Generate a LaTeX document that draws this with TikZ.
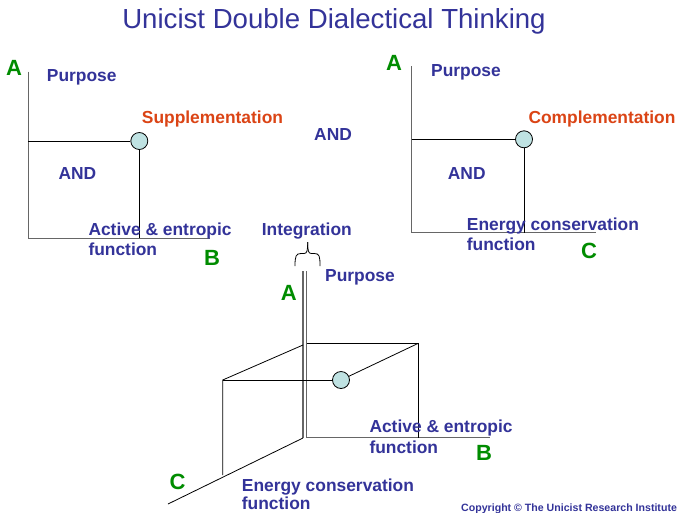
\documentclass[tikz,border=0pt]{standalone}
\usepackage{fontspec}
\setmainfont{Liberation Sans}
\definecolor{tblue}{HTML}{333399}
\definecolor{tgreen}{HTML}{008C00}
\definecolor{torange}{HTML}{DB4415}
\definecolor{dotfill}{HTML}{BFE2E2}
\definecolor{axisgray}{HTML}{666666}
\begin{document}
\begin{tikzpicture}[x=1pt,y=-1pt,
  lbl/.style={font=\bfseries\fontsize{17.4}{20}\selectfont, text=tblue, inner sep=0pt, anchor=base west},
  olbl/.style={lbl, text=torange},
  letter/.style={font=\bfseries\fontsize{22}{26}\selectfont, text=tgreen, inner sep=0pt, anchor=base west},
  axis/.style={draw=axisgray, line width=1.3pt},
  link/.style={draw=black, line width=0.8pt},
  dot/.style={circle, draw=black, line width=0.8pt, fill=dotfill, minimum size=17pt, inner sep=0pt}]
\useasboundingbox[fill=white] (0,0) rectangle (677,512);

% title
\node[font=\fontsize{27.6}{32}\selectfont, text=tblue, inner sep=0pt, anchor=base] (title) at (334,28) {Unicist Double Dialectical Thinking};

% ---------- left diagram ----------
\coordinate (LA) at (28.3,71.7);
\coordinate (LO) at (28.3,238.3);
\coordinate (LB) at (210,238.3);
\node[dot] (LC) at (139.3,141) {};
\draw[axis] (LA) -- (LO) -- (LB);
\draw[link] (LO |- LC) -- (LC.west);
\draw[link] (LC.south) -- (LC |- LO);
\node[letter] (lA) at (6,75.7) {A};
\node[lbl] (lP) at (46.7,81) {Purpose};
\node[olbl] (lS) at (141.7,123.3) {Supplementation};
\node[lbl] (lAND) at (58.3,179) {AND};
\node[lbl] (lAE1) at (88.3,235) {Active \& entropic};
\node[lbl] (lAE2) at (88.3,255.7) {function};
\node[letter] (lB) at (204,265) {B};

% middle AND
\node[lbl] (mAND) at (314,140) {AND};

% ---------- right diagram ----------
\coordinate (RA) at (411.7,66);
\coordinate (RO) at (411.7,232.7);
\coordinate (RB) at (596,232.7);
\node[dot] (RC) at (524,139.3) {};
\draw[axis] (RA) -- (RO) -- (RB);
\draw[link] (RO |- RC) -- (RC.west);
\draw[link] (RC.south) -- (RC |- RO);
\node[letter] (rA) at (386,70.7) {A};
\node[lbl] (rP) at (431,76.7) {Purpose};
\node[olbl] (rS) at (528.3,123.3) {Complementation};
\node[lbl] (rAND) at (447.7,179.3) {AND};
\node[lbl] (rE1) at (466.7,230) {Energy conservation};
\node[lbl] (rE2) at (466.7,250.7) {function};
\node[letter] (rCl) at (581,258.3) {C};

% ---------- 3D diagram ----------
\coordinate (MA1) at (303,271);
\coordinate (MA2) at (306.7,271);
\coordinate (MO1) at (303,438);
\coordinate (MO2) at (306.7,437.7);
\coordinate (MB) at (490,437.7);
\coordinate (MC) at (168,504);
\coordinate (BT1) at (306.7,343.3);
\coordinate (BT2) at (418.3,343.3);
\coordinate (BB2) at (418.3,437.7);
\coordinate (FL) at (222.7,380);
\coordinate (FLt) at (303,345);
\coordinate (FLb) at (222.7,475);
\node[dot] (MD) at (341,380) {};
\draw[axis] (MA1) -- (MO1);
\draw[axis] (MA2) -- (MO2) -- (MB);
\draw[link] (MO1) -- (MC);
\draw[link] (BT1) -- (BT2) -- (BB2);
\draw[link] (FLt) -- (FL) -- (FLb);
\draw[link] (FL) -- (MD.west);
\draw[link] (MD) -- (BT2);

% brace
\draw[line width=0.8pt] (295,266) .. controls (295,256) and (296,253.5) .. (301,253.5) -- (304,253.5) .. controls (307,253.5) and (307.7,251) .. (307.7,242);
\draw[line width=0.8pt] (320,266) .. controls (320,256) and (319.4,253.5) .. (314.4,253.5) -- (311.4,253.5) .. controls (308.4,253.5) and (307.7,251) .. (307.7,242);

\node[lbl] (mI) at (261.7,235.7) {Integration};
\node[lbl] (mP) at (325,281) {Purpose};
\node[letter] (mA) at (280.7,300.7) {A};
\node[lbl] (mAE1) at (369.3,432.7) {Active \& entropic};
\node[lbl] (mAE2) at (369.3,453.3) {function};
\node[letter] (mB) at (476,460.7) {B};
\node[letter] (mCl) at (169.3,489.3) {C};
\node[lbl] (mE1) at (241.7,491) {Energy conservation};
\node[lbl] (mE2) at (241.7,509.6) {function};

% copyright
\node[font=\bfseries\fontsize{10.6}{12}\selectfont, text=tblue, inner sep=0pt, anchor=base west] (copy) at (461,511) {Copyright © The Unicist Research Institute};
\end{tikzpicture}
\end{document}
